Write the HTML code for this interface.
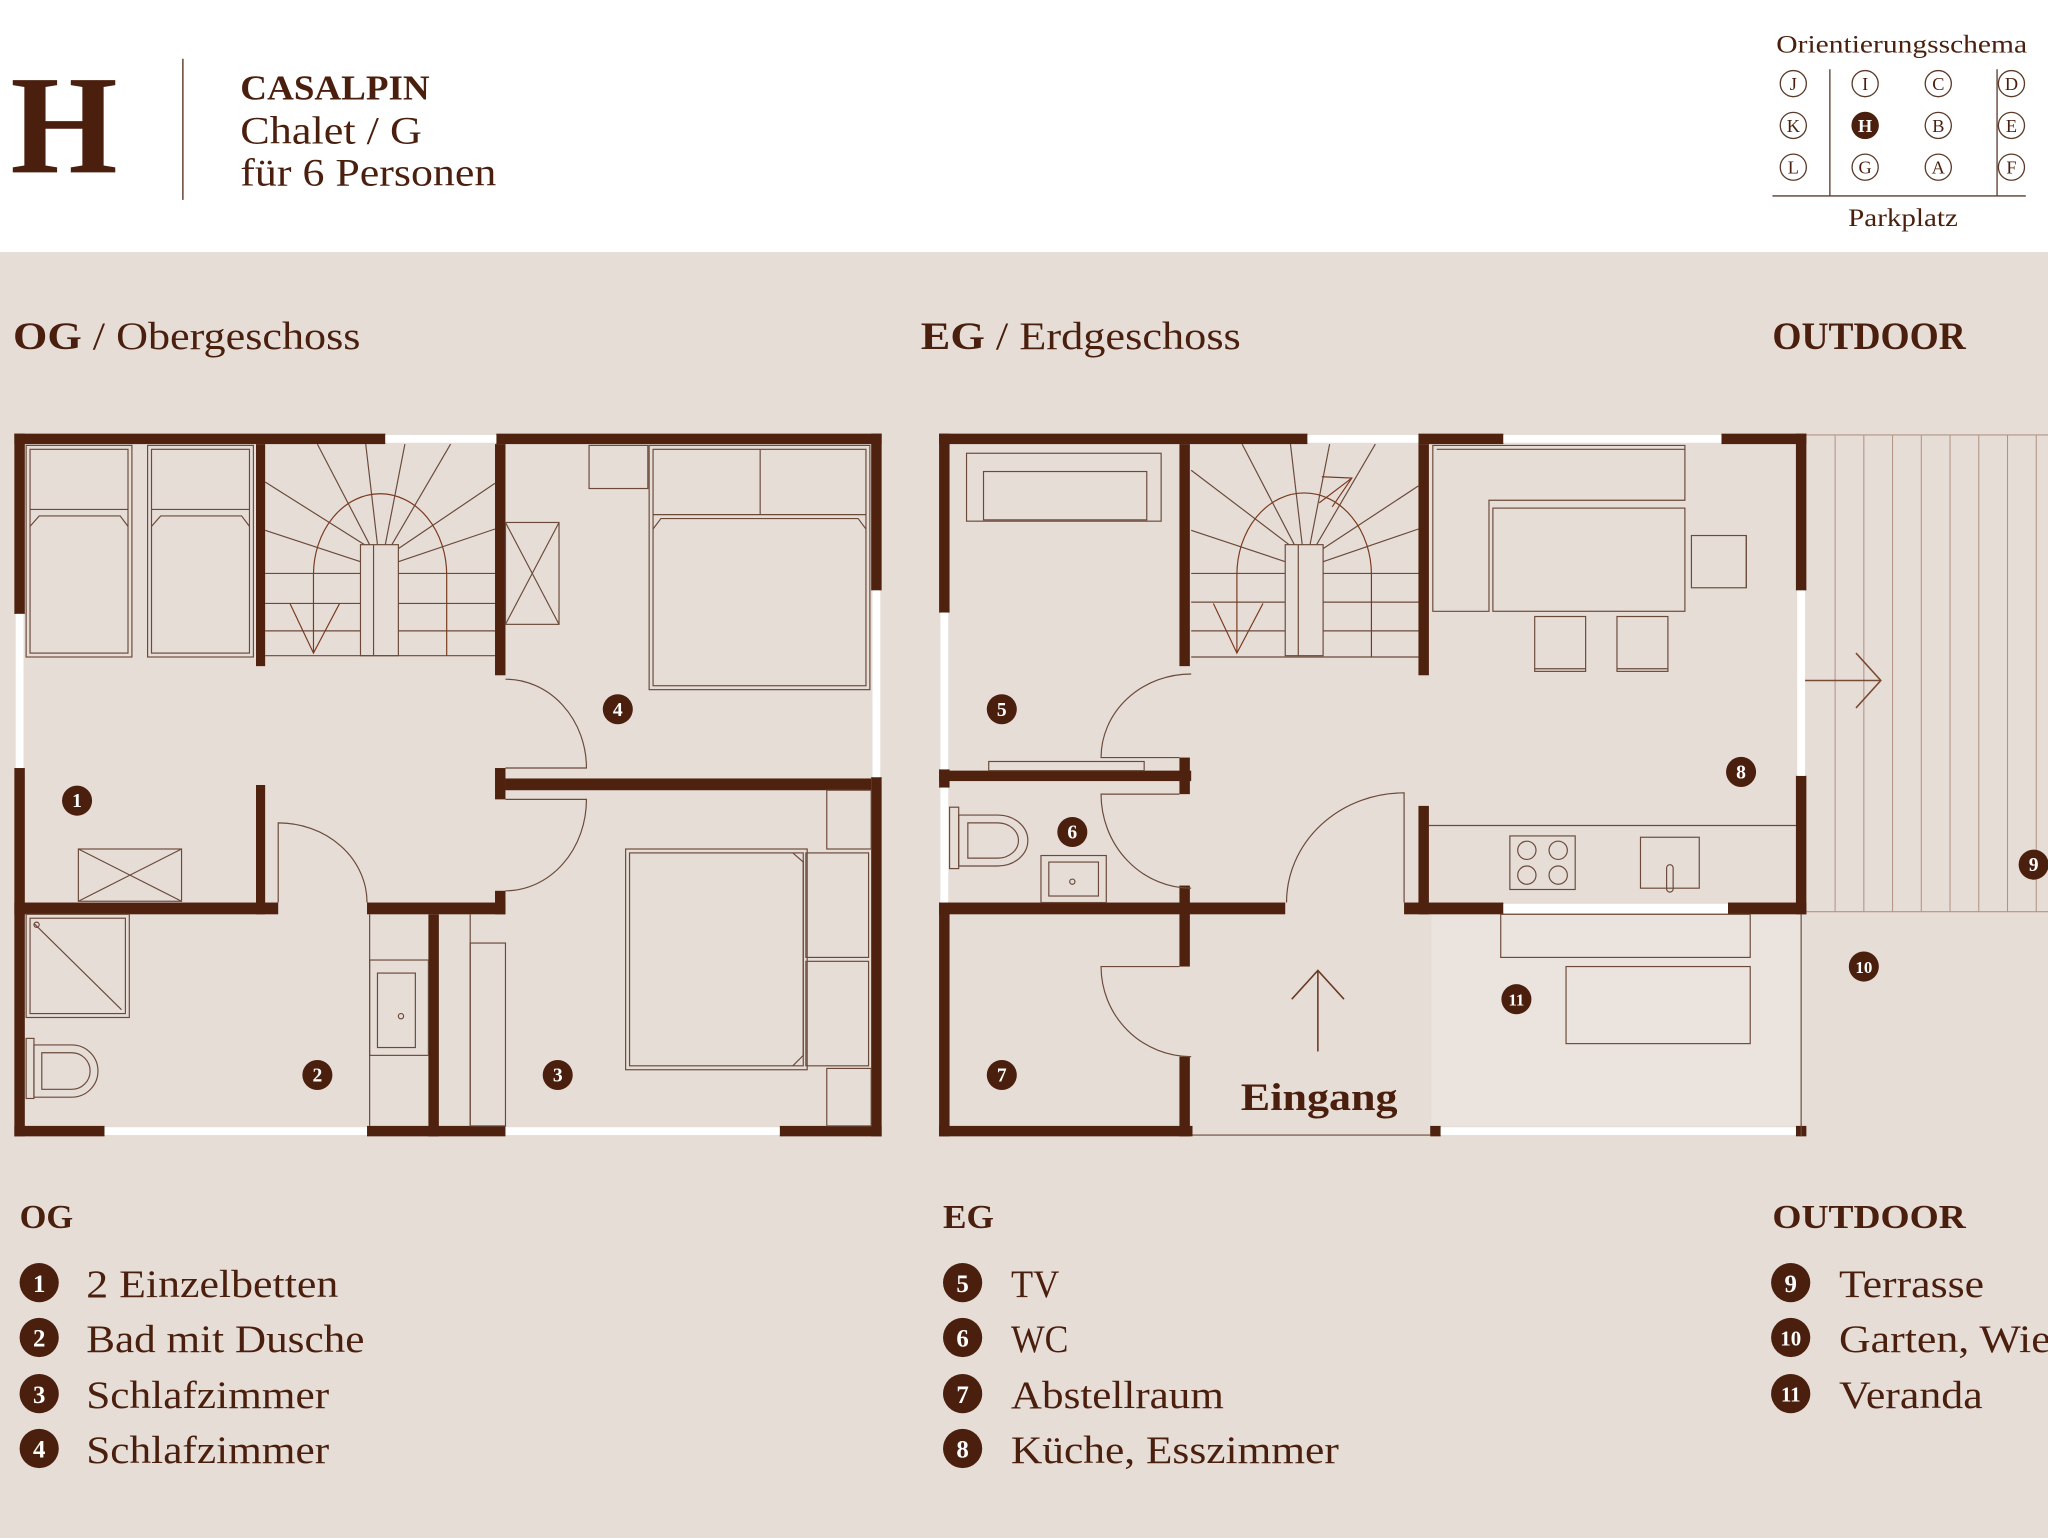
<!DOCTYPE html>
<html><head><meta charset="utf-8"><style>
html,body{margin:0;padding:0;background:#e6ddd7}
svg{display:block}
text{font-family:"Liberation Serif",serif;fill:#4a1f0d}
</style></head><body>
<svg width="2048" height="1538" viewBox="0 0 1568 1177.5" xmlns="http://www.w3.org/2000/svg">
<rect x="0" y="0" width="1568" height="1178" fill="#e6ddd7"/>
<rect x="0" y="0" width="1568" height="193" fill="#ffffff"/>
<!-- header -->
<text x="8" y="132" font-size="108" font-weight="bold" textLength="82" lengthAdjust="spacingAndGlyphs">H</text>
<line x1="140" y1="45" x2="140" y2="153" stroke="#7a5a4a" stroke-width="1.3"/>
<text x="184" y="76" font-size="27" font-weight="bold" textLength="145" lengthAdjust="spacingAndGlyphs">CASALPIN</text>
<text x="184" y="110" font-size="30" textLength="139" lengthAdjust="spacingAndGlyphs">Chalet / G</text>
<text x="184" y="142" font-size="30" textLength="196" lengthAdjust="spacingAndGlyphs">für 6 Personen</text>
<!-- schema -->
<text x="1360" y="40" font-size="19" textLength="192" lengthAdjust="spacingAndGlyphs">Orientierungsschema</text>
<g stroke="#5a3a2a" stroke-width="1" fill="none">
<line x1="1401" y1="53" x2="1401" y2="150"/><line x1="1529" y1="53" x2="1529" y2="150"/>
<line x1="1357" y1="150" x2="1551" y2="150"/>
<g>
<circle cx="1373" cy="64" r="10"/><circle cx="1428" cy="64" r="10"/><circle cx="1484" cy="64" r="10"/><circle cx="1540" cy="64" r="10"/>
<circle cx="1373" cy="96" r="10"/><circle cx="1484" cy="96" r="10"/><circle cx="1540" cy="96" r="10"/>
<circle cx="1373" cy="128" r="10"/><circle cx="1428" cy="128" r="10"/><circle cx="1484" cy="128" r="10"/><circle cx="1540" cy="128" r="10"/>
</g></g>
<circle cx="1428" cy="96" r="10.5" fill="#4a1f0d"/>
<g font-size="14" text-anchor="middle">
<text x="1373" y="69">J</text><text x="1428" y="69">I</text><text x="1484" y="69">C</text><text x="1540" y="69">D</text>
<text x="1373" y="101">K</text><text x="1428" y="101" style="fill:#fff" font-weight="bold">H</text><text x="1484" y="101">B</text><text x="1540" y="101">E</text>
<text x="1373" y="133">L</text><text x="1428" y="133">G</text><text x="1484" y="133">A</text><text x="1540" y="133">F</text>
</g>
<text x="1415" y="173" font-size="19" textLength="84" lengthAdjust="spacingAndGlyphs">Parkplatz</text>
<!-- section titles -->
<text x="10" y="267" font-size="30" textLength="266" lengthAdjust="spacingAndGlyphs"><tspan font-weight="bold">OG</tspan> / Obergeschoss</text>
<text x="705" y="267" font-size="30" textLength="245" lengthAdjust="spacingAndGlyphs"><tspan font-weight="bold">EG</tspan> / Erdgeschoss</text>
<text x="1357" y="267" font-size="30" font-weight="bold" textLength="148" lengthAdjust="spacingAndGlyphs">OUTDOOR</text>

<!-- OUTDOOR terrace -->
<g stroke="#b39484" stroke-width="0.8">
<line x1="1383" y1="333" x2="1568" y2="333"/>
<line x1="1383" y1="698" x2="1568" y2="698"/>
<line x1="1405" y1="333" x2="1405" y2="698"/><line x1="1427" y1="333" x2="1427" y2="698"/><line x1="1449" y1="333" x2="1449" y2="698"/><line x1="1471" y1="333" x2="1471" y2="698"/><line x1="1493" y1="333" x2="1493" y2="698"/><line x1="1515" y1="333" x2="1515" y2="698"/><line x1="1537" y1="333" x2="1537" y2="698"/><line x1="1559" y1="333" x2="1559" y2="698"/>
</g>
<rect x="1096" y="700" width="284" height="162" fill="#ebe4de"/>
<g stroke="#7a4a32" stroke-width="1.2" fill="none">
<line x1="1377" y1="521" x2="1440" y2="521"/><polyline points="1421,500 1440,521 1421,542"/>
</g>

<!-- ============ OG ============ -->
<g fill="#4e220f">
<rect x="11" y="332" width="284" height="8"/><rect x="380" y="332" width="295" height="8"/>
<rect x="11" y="332" width="8" height="138"/><rect x="11" y="588" width="8" height="282"/>
<rect x="11" y="862" width="69" height="8"/><rect x="281" y="862" width="106" height="8"/><rect x="597" y="862" width="78" height="8"/>
<rect x="667" y="332" width="8" height="120"/><rect x="667" y="595" width="8" height="275"/>
<rect x="196" y="340" width="7" height="170"/>
<rect x="379" y="340" width="8" height="177"/><rect x="379" y="588" width="8" height="24"/><rect x="379" y="682" width="8" height="18"/>
<rect x="387" y="596" width="280" height="9"/>
<rect x="196" y="601" width="7" height="99"/>
<rect x="11" y="691" width="202" height="9"/><rect x="281" y="691" width="106" height="9"/>
<rect x="328" y="700" width="8" height="170"/>
</g>
<g fill="#fff">
<rect x="295" y="333" width="85" height="6"/><rect x="12" y="470" width="6" height="118"/><rect x="668" y="452" width="6" height="143"/>
<rect x="80" y="863" width="201" height="6"/><rect x="387" y="863" width="210" height="6"/>
</g>
<g stroke="#6b4a3a" stroke-width="0.9" fill="none">
<rect x="20" y="341" width="81" height="162"/><rect x="23" y="344" width="75" height="156"/><line x1="23" y1="390" x2="98" y2="390"/><polyline points="23,403 30,395 92,395 98,403"/>
<rect x="113" y="341" width="81" height="162"/><rect x="116" y="344" width="75" height="156"/><line x1="116" y1="390" x2="191" y2="390"/><polyline points="116,403 123,395 185,395 191,403"/>
<line x1="203" y1="439" x2="276" y2="439"/><line x1="305" y1="439" x2="379" y2="439"/>
<line x1="203" y1="462" x2="276" y2="462"/><line x1="305" y1="462" x2="379" y2="462"/>
<line x1="203" y1="483" x2="276" y2="483"/><line x1="305" y1="483" x2="379" y2="483"/>
<line x1="203" y1="502" x2="379" y2="502"/>
<rect x="276" y="417" width="29" height="85"/><line x1="286" y1="417" x2="286" y2="502"/>
<line x1="276" y1="430" x2="203" y2="406"/><line x1="279" y1="417" x2="203" y2="369"/><line x1="283" y1="417" x2="243" y2="340"/><line x1="289" y1="417" x2="280" y2="340"/><line x1="295" y1="417" x2="310" y2="340"/><line x1="300" y1="417" x2="345" y2="340"/><line x1="305" y1="420" x2="379" y2="370"/><line x1="305" y1="430" x2="379" y2="405"/>
<path d="M240,500 V440 A51,62 0 0 1 342,440 V502" stroke="#7a3a1f"/>
<polyline points="222,462 240,500 260,462" stroke="#7a3a1f"/>
<rect x="451" y="341" width="45" height="33"/>
<rect x="387" y="400" width="41" height="78"/><line x1="387" y1="400" x2="428" y2="478"/><line x1="428" y1="400" x2="387" y2="478"/>
<rect x="497" y="341" width="169" height="187"/><rect x="500" y="344" width="163" height="181"/><line x1="582" y1="344" x2="582" y2="394"/><line x1="500" y1="394" x2="663" y2="394"/><polyline points="500,405 506,397 657,397 663,405"/>
<path d="M387,520 A62,68 0 0 1 449,588 H387"/>
<path d="M387,612 H449 A62,70 0 0 1 387,682"/>
<rect x="60" y="650" width="79" height="40"/><line x1="60" y1="650" x2="139" y2="690"/><line x1="139" y1="650" x2="60" y2="690"/>
<rect x="20" y="700" width="79" height="79"/><rect x="23" y="703" width="73" height="73"/><line x1="26" y1="707" x2="93" y2="773"/><circle cx="28" cy="708" r="2"/>
<rect x="20" y="795" width="6" height="46"/><path d="M26,800 H55 A20,20 0 0 1 55,840 H26 Z"/><path d="M32,806 H55 A14,14 0 0 1 55,834 H32 Z"/>
<path d="M213,691 V630 A68,61 0 0 1 281,691"/>
<rect x="283" y="735" width="45" height="73"/><rect x="289" y="745" width="29" height="57"/><circle cx="307" cy="778" r="2"/>
<line x1="283" y1="700" x2="283" y2="862"/>
<line x1="360" y1="700" x2="360" y2="862"/><rect x="360" y="722" width="27" height="140"/>
<rect x="479" y="650" width="139" height="169"/><rect x="482" y="653" width="133" height="163"/>
<polyline points="607,653 615,660 615,808 607,816"/>
<rect x="617" y="653" width="48" height="80"/><rect x="617" y="736" width="48" height="80"/>
<rect x="633" y="605" width="34" height="45"/><rect x="633" y="818" width="34" height="44"/>
</g>

<!-- ============ EG ============ -->
<g fill="#4e220f">
<rect x="719" y="332" width="282" height="8"/><rect x="1086" y="332" width="65" height="8"/><rect x="1318" y="332" width="65" height="8"/>
<rect x="719" y="332" width="8" height="137"/><rect x="719" y="589" width="8" height="14"/><rect x="719" y="691" width="8" height="179"/>
<rect x="719" y="862" width="194" height="8"/><rect x="1095" y="862" width="8" height="8"/><rect x="1375" y="862" width="8" height="8"/>
<rect x="1375" y="332" width="8" height="120"/><rect x="1375" y="594" width="8" height="106"/>
<rect x="903" y="340" width="8" height="170"/><rect x="1086" y="340" width="8" height="177"/>
<rect x="719" y="590" width="193" height="8"/><rect x="903" y="580" width="8" height="28"/>
<rect x="903" y="678" width="8" height="62"/><rect x="903" y="809" width="8" height="61"/>
<rect x="719" y="691" width="265" height="9"/><rect x="1075" y="691" width="76" height="9"/><rect x="1323" y="691" width="60" height="9"/>
<rect x="1086" y="617" width="8" height="83"/>
</g>
<g fill="#fff">
<rect x="1001" y="333" width="85" height="6"/><rect x="1151" y="333" width="167" height="6"/>
<rect x="720" y="469" width="6" height="120"/><rect x="720" y="603" width="6" height="88"/>
<rect x="1376" y="452" width="6" height="142"/><rect x="1151" y="692" width="172" height="7"/>
<rect x="1103" y="863" width="272" height="6"/>
</g>
<g stroke="#6b4a3a" stroke-width="0.9" fill="none">
<line x1="1379" y1="700" x2="1379" y2="870"/>
<line x1="913" y1="869" x2="1095" y2="869"/>
<rect x="740" y="347" width="149" height="52"/><rect x="753" y="361" width="125" height="37"/>
<rect x="757" y="583" width="119" height="7"/>
<line x1="912" y1="439" x2="984" y2="439"/><line x1="1013" y1="439" x2="1086" y2="439"/>
<line x1="912" y1="461" x2="984" y2="461"/><line x1="1013" y1="461" x2="1086" y2="461"/>
<line x1="912" y1="483" x2="984" y2="483"/><line x1="1013" y1="483" x2="1086" y2="483"/>
<line x1="912" y1="503" x2="1086" y2="503"/>
<rect x="984" y="417" width="29" height="85"/><line x1="994" y1="417" x2="994" y2="502"/>
<line x1="984" y1="430" x2="912" y2="406"/><line x1="987" y1="417" x2="912" y2="360"/><line x1="991" y1="417" x2="951" y2="340"/><line x1="997" y1="417" x2="988" y2="340"/><line x1="1003" y1="417" x2="1018" y2="340"/><line x1="1008" y1="417" x2="1053" y2="340"/><line x1="1013" y1="420" x2="1086" y2="372"/><line x1="1013" y1="430" x2="1086" y2="405"/>
<path d="M947,500 V440 A51,62 0 0 1 1050,440 V503" stroke="#7a3a1f"/>
<polyline points="929,462 947,500 967,462" stroke="#7a3a1f"/>
<polyline points="1012,365 1035,366 1020,388" stroke="#7a3a1f"/><line x1="1035" y1="366" x2="1010" y2="385" stroke="#7a3a1f"/>
<path d="M912,516 A69,64 0 0 0 843,580 H903"/>
<path d="M903,608 H843 A69,72 0 0 0 912,680"/>
<path d="M903,740 H843 A69,69 0 0 0 912,809"/>
<path d="M985,691 A90,84 0 0 1 1075,607 V691"/>
<rect x="727" y="618" width="7" height="47"/><path d="M734,624 H764 A20,17 0 0 1 764,663 H734 Z"/><path d="M741,630 H764 A14,12 0 0 1 764,657 H741 Z"/>
<rect x="797" y="655" width="50" height="36"/><rect x="803" y="660" width="38" height="26"/><circle cx="821" cy="675" r="2"/>
<path d="M1097,468 V341 H1290 V383 H1140 V468 Z"/><line x1="1100" y1="344" x2="1290" y2="344"/>
<rect x="1143" y="389" width="147" height="79"/>
<rect x="1295" y="410" width="42" height="40"/><line x1="1337" y1="410" x2="1337" y2="450"/>
<rect x="1175" y="472" width="39" height="42"/><line x1="1175" y1="512" x2="1214" y2="512"/>
<rect x="1238" y="472" width="39" height="42"/><line x1="1238" y1="512" x2="1277" y2="512"/>
<line x1="1094" y1="632" x2="1375" y2="632"/>
<rect x="1156" y="640" width="50" height="41"/>
<circle cx="1169" cy="651" r="7"/><circle cx="1193" cy="651" r="7"/><circle cx="1169" cy="670" r="7"/><circle cx="1193" cy="670" r="7"/>
<rect x="1256" y="641" width="45" height="39"/><rect x="1276" y="662" width="5" height="21" rx="2.5"/>
<rect x="1149" y="700" width="191" height="33"/>
<rect x="1199" y="740" width="141" height="59"/>
</g>
<g stroke="#6b3a22" stroke-width="1.2" fill="none">
<line x1="1009" y1="805" x2="1009" y2="743"/><polyline points="989,765 1009,743 1029,765"/>
</g>
<text x="950" y="850" font-size="30" font-weight="bold" textLength="120" lengthAdjust="spacingAndGlyphs">Eingang</text>

<!-- badges -->
<g fill="#4a1f0d">
<circle cx="59" cy="613" r="11.5"/><circle cx="243" cy="823" r="11.5"/><circle cx="427" cy="823" r="11.5"/><circle cx="473" cy="543" r="11.5"/>
<circle cx="767" cy="543" r="11.5"/><circle cx="821" cy="637" r="11.5"/><circle cx="767" cy="823" r="11.5"/><circle cx="1333" cy="591" r="11.5"/>
<circle cx="1557" cy="662" r="11.5"/><circle cx="1427" cy="740" r="11.5"/><circle cx="1161" cy="765" r="11.5"/>
</g>
<g font-size="15" font-weight="bold" text-anchor="middle">
<text x="59" y="618" style="fill:#fff">1</text><text x="243" y="828" style="fill:#fff">2</text><text x="427" y="828" style="fill:#fff">3</text><text x="473" y="548" style="fill:#fff">4</text>
<text x="767" y="548" style="fill:#fff">5</text><text x="821" y="642" style="fill:#fff">6</text><text x="767" y="828" style="fill:#fff">7</text><text x="1333" y="596" style="fill:#fff">8</text>
<text x="1557" y="667" style="fill:#fff">9</text><text x="1427" y="745" font-size="13" style="fill:#fff">10</text><text x="1161" y="770" font-size="13" style="fill:#fff">11</text>
</g>

<!-- legends -->
<text x="15" y="940" font-size="26" font-weight="bold" textLength="41" lengthAdjust="spacingAndGlyphs">OG</text>
<text x="722" y="940" font-size="26" font-weight="bold" textLength="39" lengthAdjust="spacingAndGlyphs">EG</text>
<text x="1357" y="940" font-size="26" font-weight="bold" textLength="148" lengthAdjust="spacingAndGlyphs">OUTDOOR</text>
<g fill="#4a1f0d">
<circle cx="30" cy="982" r="15"/><circle cx="30" cy="1024" r="15"/><circle cx="30" cy="1067" r="15"/><circle cx="30" cy="1109" r="15"/>
<circle cx="737" cy="982" r="15"/><circle cx="737" cy="1024" r="15"/><circle cx="737" cy="1067" r="15"/><circle cx="737" cy="1109" r="15"/>
<circle cx="1371" cy="982" r="15"/><circle cx="1371" cy="1024" r="15"/><circle cx="1371" cy="1067" r="15"/>
</g>
<g font-size="19" font-weight="bold" text-anchor="middle">
<text x="30" y="989" style="fill:#fff">1</text><text x="30" y="1031" style="fill:#fff">2</text><text x="30" y="1074" style="fill:#fff">3</text><text x="30" y="1116" style="fill:#fff">4</text>
<text x="737" y="989" style="fill:#fff">5</text><text x="737" y="1031" style="fill:#fff">6</text><text x="737" y="1074" style="fill:#fff">7</text><text x="737" y="1116" style="fill:#fff">8</text>
<text x="1371" y="989" style="fill:#fff">9</text><text x="1371" y="1030" font-size="16" style="fill:#fff">10</text><text x="1371" y="1073" font-size="16" style="fill:#fff">11</text>
</g>
<g font-size="30">
<text x="66" y="993" textLength="193" lengthAdjust="spacingAndGlyphs">2 Einzelbetten</text>
<text x="66" y="1035" textLength="213" lengthAdjust="spacingAndGlyphs">Bad mit Dusche</text>
<text x="66" y="1078" textLength="186" lengthAdjust="spacingAndGlyphs">Schlafzimmer</text>
<text x="66" y="1120" textLength="186" lengthAdjust="spacingAndGlyphs">Schlafzimmer</text>
<text x="774" y="993" textLength="37" lengthAdjust="spacingAndGlyphs">TV</text>
<text x="774" y="1035" textLength="44" lengthAdjust="spacingAndGlyphs">WC</text>
<text x="774" y="1078" textLength="163" lengthAdjust="spacingAndGlyphs">Abstellraum</text>
<text x="774" y="1120" textLength="251" lengthAdjust="spacingAndGlyphs">Küche, Esszimmer</text>
<text x="1408" y="993" textLength="111" lengthAdjust="spacingAndGlyphs">Terrasse</text>
<text x="1408" y="1035" textLength="190" lengthAdjust="spacingAndGlyphs">Garten, Wiese</text>
<text x="1408" y="1078" textLength="110" lengthAdjust="spacingAndGlyphs">Veranda</text>
</g>
</svg>
</body></html>
